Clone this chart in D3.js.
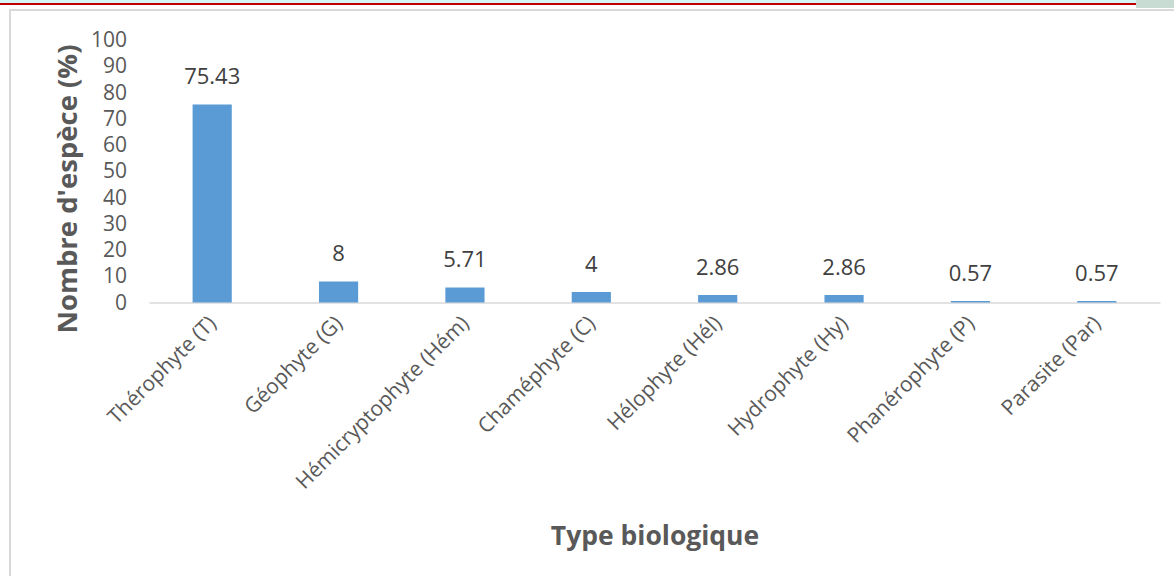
<!DOCTYPE html>
<html>
<head>
<meta charset="utf-8">
<script src="https://cdn.jsdelivr.net/npm/d3@7"></script>
<style>
    body { margin: 0; background: #fff; }
    svg { display: block; font-family: "Open Sans", sans-serif; }
</style>
</head>
<body>
<svg id="chart"></svg>
<script>
// Chart values
const categories = ["Thérophyte (T)", "Géophyte (G)", "Hémicryptophyte (Hém)", "Chaméphyte (C)",
    "Hélophyte (Hél)", "Hydrophyte (Hy)", "Phanérophyte (P)", "Parasite (Par)"];
const values = [75.43, 8, 5.71, 4, 2.86, 2.86, 0.57, 0.57];
const yTicks = [0, 10, 20, 30, 40, 50, 60, 70, 80, 90, 100];
const yTitle = "Nombre d'espèce (%)";
const xTitle = "Type biologique";

class BarChart {
    constructor(_config) {
        this.config = {
            parentElement: _config.parentElement,
            containerWidth: _config.containerWidth || 1174,
            containerHeight: _config.containerHeight || 576,
            plot: _config.plot || {left: 149, right: 1160, top: 40, bottom: 302.5}
        };
        this.data = categories.map((c, i) => ({category: c, value: values[i]}));
        this.initVis();
    }

    initVis() {
        let vis = this;
        let p = vis.config.plot;

        vis.svg = d3.select(vis.config.parentElement)
            .attr('width', vis.config.containerWidth)
            .attr('height', vis.config.containerHeight);

        // page decoration on top (document header strip + chart frame)
        vis.svg.append('rect').attr('x', 0).attr('y', 0).attr('width', 1136).attr('height', 3).attr('fill', '#d6f5f5');
        vis.svg.append('rect').attr('x', 0).attr('y', 3).attr('width', 1136).attr('height', 2).attr('fill', '#c00000');
        vis.svg.append('rect').attr('x', 1136).attr('y', 0).attr('width', 38).attr('height', 8).attr('fill', '#c9dcd3');
        vis.svg.append('path')
            .attr('d', `M10,${vis.config.containerHeight + 5} V10 H${vis.config.containerWidth + 5}`)
            .attr('fill', 'none')
            .attr('stroke', '#d9d9d9')
            .attr('stroke-width', 2);

        vis.xScale = d3.scaleBand()
            .domain(categories)
            .range([p.left, p.right])
            .paddingInner(0.69)
            .paddingOuter(0.345);

        vis.yScale = d3.scaleLinear()
            .domain([0, 100])
            .range([p.bottom, p.top]);

        vis.yAxis = d3.axisLeft(vis.yScale)
            .tickValues(yTicks)
            .tickSize(0)
            .tickPadding(0);

        vis.xAxis = d3.axisBottom(vis.xScale)
            .tickSize(0)
            .tickSizeOuter(0);

        vis.chart = vis.svg.append('g');

        vis.yAxisG = vis.chart.append('g')
            .attr('class', 'axis y-axis')
            .attr('transform', `translate(127,0)`);

        vis.xAxisG = vis.chart.append('g')
            .attr('class', 'axis x-axis')
            .attr('transform', `translate(0,${p.bottom})`);

        // Y-Axis Label
        vis.svg.append('text')
            .attr('transform', 'rotate(-90)')
            .attr('x', -189)
            .attr('y', 77)
            .attr('text-anchor', 'middle')
            .style('font-size', '27.5px')
            .style('font-weight', '700')
            .attr('fill', '#595959')
            .text(yTitle);

        // X-Axis Label
        vis.svg.append('text')
            .attr('x', 655)
            .attr('y', 545)
            .attr('text-anchor', 'middle')
            .style('font-size', '26.5px')
            .style('font-weight', '700')
            .attr('fill', '#595959')
            .text(xTitle);

        vis.renderVis();
    }

    renderVis() {
        let vis = this;

        vis.chart.selectAll('.bar')
            .data(vis.data)
            .join('rect')
            .attr('class', 'bar')
            .attr('x', d => vis.xScale(d.category))
            .attr('y', d => vis.yScale(d.value))
            .attr('width', vis.xScale.bandwidth())
            .attr('height', d => vis.yScale(0) - vis.yScale(d.value))
            .attr('fill', '#5b9bd5');

        vis.chart.selectAll('.value-label')
            .data(vis.data)
            .join('text')
            .attr('class', 'value-label')
            .attr('x', d => vis.xScale(d.category) + vis.xScale.bandwidth() / 2)
            .attr('y', d => vis.yScale(d.value) - 26)
            .attr('text-anchor', 'middle')
            .attr('dominant-baseline', 'middle')
            .style('font-size', '22px')
            .attr('fill', '#404040')
            .text(d => d.value);

        vis.yAxisG.call(vis.yAxis);
        vis.yAxisG.select('.domain').remove();
        vis.yAxisG.selectAll('text')
            .style('font-size', '21px')
            .style('font-family', '"Open Sans", sans-serif')
            .attr('fill', '#595959');

        vis.xAxisG.call(vis.xAxis);
        vis.xAxisG.select('.domain')
            .attr('stroke', '#d9d9d9')
            .attr('stroke-width', 1.5);
        vis.xAxisG.selectAll('text')
            .style('font-size', '21px')
            .style('font-family', '"Open Sans", sans-serif')
            .attr('fill', '#595959')
            .attr('text-anchor', 'end')
            .attr('dy', 0)
            .attr('transform', 'translate(3,20) rotate(-45)');
    }
}

new BarChart({parentElement: '#chart'});
</script>
</body>
</html>
